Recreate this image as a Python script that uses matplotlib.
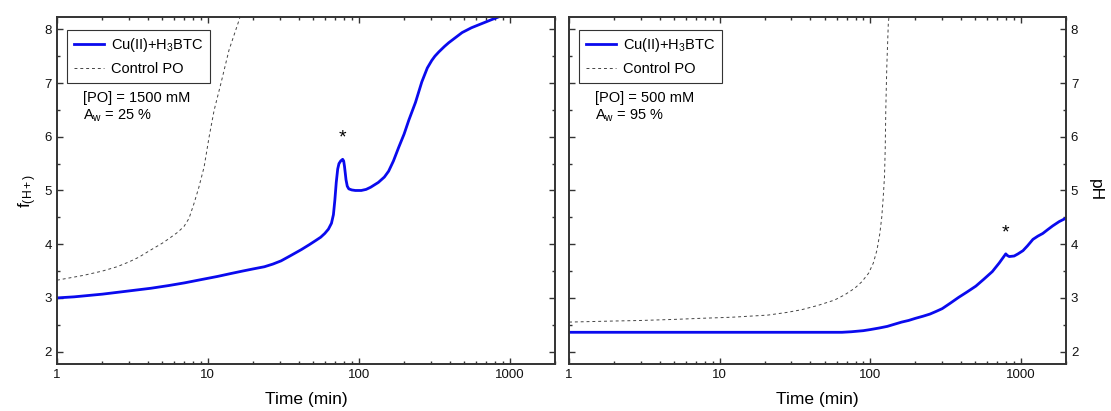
import matplotlib
matplotlib.use('Agg')
import matplotlib.pyplot as plt
from matplotlib.ticker import LogLocator, FixedLocator, NullFormatter, MultipleLocator

plt.rcParams['font.family'] = ['Liberation Sans', 'DejaVu Sans']
plt.rcParams['mathtext.fontset'] = 'custom'
plt.rcParams['mathtext.rm'] = 'Liberation Sans'
plt.rcParams['mathtext.it'] = 'Liberation Sans'

# left panel: [PO] = 1500 mM, Aw = 25 %
left_cu_time = [1, 1.3, 2, 3, 4.2, 5.5, 7, 9, 11.6, 14, 17, 20, 23.7, 27, 30.6, 35, 41.7,
                47, 52, 56, 59.6, 63, 66, 68, 69.5, 71, 72.6, 74, 76, 78.3, 79.5, 80.5,
                81.5, 82.4, 84, 86, 90, 95, 104, 112, 120, 135, 148, 158, 170, 184, 200,
                215, 238, 262, 285, 305, 320, 340, 370, 395, 440, 485, 560, 659, 760, 880]
left_cu_ph = [3.00, 3.02, 3.07, 3.13, 3.18, 3.23, 3.28, 3.34, 3.40, 3.45, 3.50, 3.54, 3.58,
              3.63, 3.69, 3.78, 3.90, 3.99, 4.07, 4.13, 4.20, 4.28, 4.39, 4.55, 4.82, 5.15,
              5.40, 5.50, 5.55, 5.58, 5.55, 5.45, 5.32, 5.20, 5.08, 5.03, 5.01, 5.00, 5.00,
              5.02, 5.06, 5.15, 5.25, 5.36, 5.55, 5.80, 6.05, 6.31, 6.64, 7.02, 7.28, 7.42,
              7.50, 7.58, 7.68, 7.75, 7.85, 7.94, 8.03, 8.11, 8.18, 8.25]
left_ctrl_time = [1, 1.5, 2, 2.5, 3, 3.5, 4.17, 5, 5.5, 6.3, 6.95, 7.5, 8.1, 8.7, 9.45,
                  10.2, 11.0, 12.2, 13.8, 16.1, 16.6]
left_ctrl_ph = [3.33, 3.42, 3.50, 3.58, 3.67, 3.76, 3.89, 4.02, 4.10, 4.22, 4.33, 4.48,
                4.76, 5.05, 5.44, 6.0, 6.49, 6.99, 7.61, 8.17, 8.3]

# right panel: [PO] = 500 mM, Aw = 95 %
right_cu_time = [1, 10, 40, 65, 75, 90, 100, 115, 130, 145, 162, 180, 200, 225, 250, 275,
                 301, 340, 387, 440, 504, 570, 648, 720, 796, 815, 840, 905, 960, 1036,
                 1110, 1206, 1300, 1402, 1510, 1630, 1800, 2050]
right_cu_ph = [2.36, 2.36, 2.36, 2.36, 2.37, 2.39, 2.41, 2.44, 2.47, 2.51, 2.55, 2.58, 2.62,
               2.66, 2.70, 2.75, 2.80, 2.90, 3.01, 3.11, 3.22, 3.35, 3.49, 3.65, 3.82, 3.79,
               3.77, 3.78, 3.82, 3.88, 3.97, 4.09, 4.15, 4.20, 4.27, 4.34, 4.42, 4.50]
right_ctrl_time = [1, 2, 3, 5, 7.5, 12, 20.9, 28, 35, 45, 58, 68, 79, 88, 97.7, 105, 111,
                   116, 119.5, 122, 124.5, 126, 127, 129, 132, 134]
right_ctrl_ph = [2.55, 2.57, 2.58, 2.60, 2.62, 2.64, 2.68, 2.73, 2.78, 2.86, 2.96, 3.06,
                 3.18, 3.30, 3.46, 3.65, 3.89, 4.20, 4.51, 4.85, 5.25, 5.80, 6.49, 7.3, 8.1, 8.3]

# star marks (time, pH)
left_star = (78, 5.98)
right_star = (790, 4.20)

x_ticks = [1, 10, 100, 1000]
x_tick_labels = ['1', '10', '100', '1000']

BLUE = '#0a0aee'
GREY = '#444444'
SPINE = '#333333'


def style_axes(ax):
    ax.set_xscale('log')
    ax.set_xlim(1, 2000)
    ax.set_ylim(1.77, 8.23)
    ax.xaxis.set_major_locator(FixedLocator(x_ticks))
    ax.set_xticklabels(x_tick_labels)
    ax.xaxis.set_minor_locator(LogLocator(base=10, subs=range(2, 10)))
    ax.xaxis.set_minor_formatter(NullFormatter())
    ax.yaxis.set_major_locator(MultipleLocator(1))
    ax.yaxis.set_minor_locator(MultipleLocator(0.5))
    ax.tick_params(which='both', direction='in', top=True, right=True,
                   colors=SPINE, labelcolor='#111111', labelsize=9.5, width=1)
    ax.tick_params(which='major', length=4)
    ax.tick_params(which='minor', length=2.5)
    for s in ax.spines.values():
        s.set_color(SPINE)
        s.set_linewidth(1.4)
    ax.set_xlabel('Time (min)', fontsize=12.5, labelpad=8)


def draw_panel(ax, cu_t, cu_ph, ctrl_t, ctrl_ph, star, po, aw):
    ax.plot(cu_t, cu_ph, color=BLUE, lw=2.0, label='Cu(II)+H$_3$BTC')
    ax.plot(ctrl_t, ctrl_ph, color=GREY, lw=0.7, dashes=(3, 3), label='Control PO')
    ax.text(star[0], star[1], '*', fontsize=14, ha='center', va='center')
    ax.text(0.052, 0.767, '[PO] = %s mM' % po, transform=ax.transAxes, fontsize=10.5,
            va='center')
    ax.text(0.052, 0.715, 'A$_w$ = %s %%' % aw, transform=ax.transAxes, fontsize=10.5,
            va='center')
    leg = ax.legend(loc='upper left', bbox_to_anchor=(0.02, 0.963), borderaxespad=0,
                    fancybox=False, framealpha=1, edgecolor=SPINE, fontsize=10.5,
                    handlelength=2.1, handletextpad=0.45, labelspacing=0.55, borderpad=0.45)
    leg.get_frame().set_linewidth(0.8)
    style_axes(ax)


fig = plt.figure(figsize=(11.11, 4.11), dpi=100)
ax1 = fig.add_axes([0.0513, 0.1144, 0.4482, 0.8443])
ax2 = fig.add_axes([0.5122, 0.1144, 0.4473, 0.8443])

draw_panel(ax1, left_cu_time, left_cu_ph, left_ctrl_time, left_ctrl_ph, left_star, '1500', '25')
draw_panel(ax2, right_cu_time, right_cu_ph, right_ctrl_time, right_ctrl_ph, right_star, '500', '95')

ax1.set_ylabel('f$_{(H+)}$', fontsize=12.5, labelpad=4)
ax2.tick_params(which='both', labelleft=False, labelright=True)
ax2.yaxis.set_label_position('right')
ax2.set_ylabel('pH', fontsize=12.5, rotation=270, labelpad=18)

fig.savefig('out.png', dpi=100)
